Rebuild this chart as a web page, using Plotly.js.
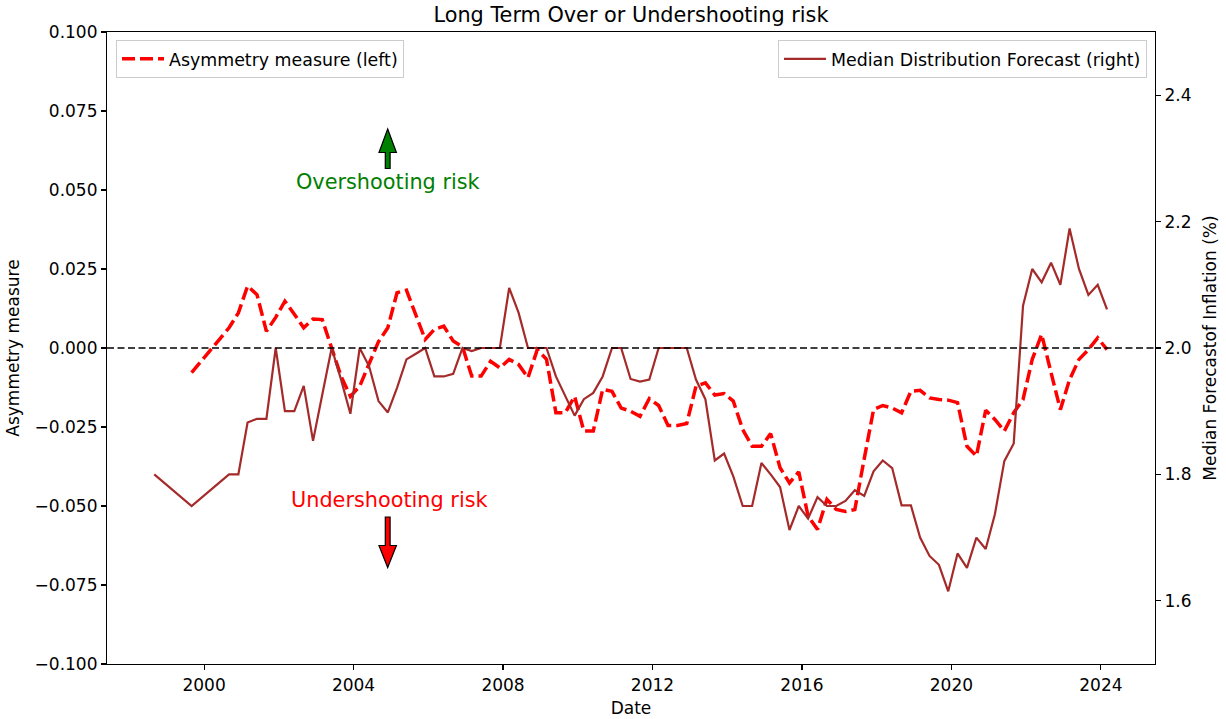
<!DOCTYPE html>
<html>
<head>
<meta charset="utf-8">
<script src="https://cdn.plot.ly/plotly-3.0.1.min.js"></script>
<style>
  html, body { margin: 0; padding: 0; background: #fff; }
  #chart { width: 1226px; height: 719px; }
</style>
</head>
<body>
<div id="chart"></div>
<script>
// ---- Data ----
const dates = [
  "1998-09-01","1999-09-01","2000-09-01","2000-12-01",
  "2001-03-01","2001-06-01","2001-09-01","2001-12-01",
  "2002-03-01","2002-06-01","2002-09-01","2002-12-01",
  "2003-03-01","2003-06-01","2003-09-01","2003-12-01",
  "2004-03-01","2004-06-01","2004-09-01","2004-12-01",
  "2005-03-01","2005-06-01","2005-09-01","2005-12-01",
  "2006-03-01","2006-06-01","2006-09-01","2006-12-01",
  "2007-03-01","2007-06-01","2007-09-01","2007-12-01",
  "2008-03-01","2008-06-01","2008-09-01","2008-12-01",
  "2009-03-01","2009-06-01","2009-09-01","2009-12-01",
  "2010-03-01","2010-06-01","2010-09-01","2010-12-01",
  "2011-03-01","2011-06-01","2011-09-01","2011-12-01",
  "2012-03-01","2012-06-01","2012-09-01","2012-12-01",
  "2013-03-01","2013-06-01","2013-09-01","2013-12-01",
  "2014-03-01","2014-06-01","2014-09-01","2014-12-01",
  "2015-03-01","2015-06-01","2015-09-01","2015-12-01",
  "2016-03-01","2016-06-01","2016-09-01","2016-12-01",
  "2017-03-01","2017-06-01","2017-09-01","2017-12-01",
  "2018-03-01","2018-06-01","2018-09-01","2018-12-01",
  "2019-03-01","2019-06-01","2019-09-01","2019-12-01",
  "2020-03-01","2020-06-01","2020-09-01","2020-12-01",
  "2021-03-01","2021-06-01","2021-09-01","2021-12-01",
  "2022-03-01","2022-06-01","2022-09-01","2022-12-01",
  "2023-03-01","2023-06-01","2023-09-01","2023-12-01",
  "2024-03-01"
];

// Median Distribution Forecast (right axis), one value per date above
const medianForecast = [
  1.80, 1.75, 1.80, 1.80,
  1.882, 1.888, 1.888, 2.00,
  1.90, 1.90, 1.94, 1.853,
  1.926, 2.00, 1.95, 1.896,
  2.00, 1.971, 1.916, 1.898,
  1.937, 1.982, 1.991, 2.00,
  1.955, 1.955, 1.959, 2.00,
  1.995, 2.00, 2.00, 2.00,
  2.095, 2.056, 2.00, 2.00,
  2.00, 1.955, 1.924, 1.893,
  1.919, 1.929, 1.955, 2.00,
  2.00, 1.951, 1.947, 1.950,
  2.00, 2.00, 2.00, 2.00,
  1.950, 1.919, 1.822, 1.833,
  1.797, 1.750, 1.750, 1.818,
  1.800, 1.780, 1.712, 1.750,
  1.730, 1.764, 1.750, 1.750,
  1.758, 1.775, 1.766, 1.805,
  1.822, 1.810, 1.751, 1.751,
  1.700, 1.671, 1.657, 1.615,
  1.675, 1.652, 1.700, 1.682,
  1.737, 1.821, 1.849, 2.067,
  2.125, 2.104, 2.135, 2.100,
  2.189, 2.125, 2.084, 2.100,
  2.061
];

// Asymmetry measure (left axis), starts at the second date (1999-09)
const asymDates = dates.slice(1);
const asymmetry = [
  -0.0078, 0.0064, 0.0111,
  0.0196, 0.0169, 0.0053, 0.0097,
  0.0148, 0.0107, 0.0064, 0.0092,
  0.0090, 0.0000, -0.0090, -0.0153,
  -0.0121, -0.0050, 0.0020, 0.0064,
  0.0175, 0.0183, 0.0101, 0.0027,
  0.0059, 0.0069, 0.0022, 0.0004,
  -0.0089, -0.0089, -0.0042, -0.0063,
  -0.0036, -0.0052, -0.0094, -0.0005,
  -0.0036, -0.0205, -0.0205, -0.0153,
  -0.0263, -0.0263, -0.0131, -0.0137,
  -0.0190, -0.0200, -0.0216, -0.0160,
  -0.0182, -0.0245, -0.0245, -0.0239,
  -0.0121, -0.0110, -0.0149, -0.0144,
  -0.0168, -0.0258, -0.0311, -0.0311,
  -0.0271, -0.0379, -0.0427, -0.0392,
  -0.0532, -0.0574, -0.0479, -0.0511,
  -0.0517, -0.0511, -0.0350, -0.0195,
  -0.0182, -0.0190, -0.0205, -0.0137,
  -0.0134, -0.0158, -0.0163, -0.0165,
  -0.0173, -0.0311, -0.0342, -0.0197,
  -0.0226, -0.0263, -0.0205, -0.0163,
  -0.0036, 0.0043, -0.0078, -0.0195,
  -0.0100, -0.0036, -0.0005, 0.0032,
  -0.0005
];

const xTickVals = ["2000-01-01","2004-01-01","2008-01-01","2012-01-01","2016-01-01","2020-01-01","2024-01-01"];
const xTickText = ["2000","2004","2008","2012","2016","2020","2024"];
const leftTicks = [-0.1, -0.075, -0.05, -0.025, 0, 0.025, 0.05, 0.075, 0.1];
const rightTicks = [1.6, 1.8, 2.0, 2.2, 2.4];

// ---- Layout geometry (pixels) ----
const W = 1226, H = 719;
const PL = 107, PR = 1155, PT = 32, PB = 664;
const pw = PR - PL, ph = PB - PT;
const px = v => (v - PL) / pw;
const py = v => (PB - v) / ph;

function arrowPath(xc, tipY, baseY, endY) {
  const sh = 2.4, hh = 8.7;
  const pts = [
    [xc, tipY], [xc + hh, baseY], [xc + sh, baseY], [xc + sh, endY],
    [xc - sh, endY], [xc - sh, baseY], [xc - hh, baseY]
  ];
  return "M " + pts.map(p => px(p[0]).toFixed(5) + "," + py(p[1]).toFixed(5)).join(" L ") + " Z";
}

const FONT = "DejaVu Sans, Verdana, sans-serif";

const traces = [
  {
    x: asymDates, y: asymmetry, type: "scatter", mode: "lines",
    name: "Asymmetry measure (left)", yaxis: "y", legend: "legend",
    line: { color: "#ff0000", width: 3.5, dash: "13px,5px" }
  },
  {
    x: dates, y: medianForecast, type: "scatter", mode: "lines",
    name: "Median Distribution Forecast (right)", yaxis: "y2", legend: "legend2",
    line: { color: "#a52a2a", width: 2.2 }
  }
];

const layout = {
  width: W, height: H,
  margin: { l: PL, r: W - PR, t: PT, b: H - PB, pad: 0 },
  paper_bgcolor: "#ffffff", plot_bgcolor: "#ffffff",
  font: { family: FONT, size: 17, color: "#000" },
  showlegend: true,
  title: {
    text: "Long Term Over or Undershooting risk",
    font: { family: FONT, size: 20.8, color: "#000" },
    x: 0.5, xref: "paper", xanchor: "center",
    y: 1 - 15 / H, yref: "container", yanchor: "middle"
  },
  xaxis: {
    type: "date",
    range: ["1997-05-27", "2025-06-13"],
    tickvals: xTickVals, ticktext: xTickText,
    ticks: "outside", ticklen: 5, tickwidth: 1.1, tickcolor: "#000",
    showline: true, linecolor: "#000", linewidth: 1.1, mirror: true,
    showgrid: false, zeroline: false,
    tickfont: { family: FONT, size: 17, color: "#000" },
    title: { text: "Date", font: { family: FONT, size: 17, color: "#000" }, standoff: 8 }
  },
  yaxis: {
    range: [-0.1, 0.1],
    tickvals: leftTicks, tickformat: ".3f",
    ticks: "outside", ticklen: 5, tickwidth: 1.1, tickcolor: "#000",
    showline: true, linecolor: "#000", linewidth: 1.1,
    showgrid: false, zeroline: false,
    tickfont: { family: FONT, size: 17, color: "#000" },
    title: { text: "Asymmetry measure", font: { family: FONT, size: 17, color: "#000" }, standoff: 10 }
  },
  yaxis2: {
    overlaying: "y", side: "right",
    range: [1.5, 2.5],
    tickvals: rightTicks, tickformat: ".1f",
    ticks: "outside", ticklen: 5, tickwidth: 1.1, tickcolor: "#000",
    showline: true, linecolor: "#000", linewidth: 1.1,
    showgrid: false, zeroline: false,
    tickfont: { family: FONT, size: 17, color: "#000" },
    title: { text: "Median Forecastof Inflation (%)", font: { family: FONT, size: 17, color: "#000" }, standoff: 13 }
  },
  legend: {
    x: px(116), y: py(40), xanchor: "left", yanchor: "top",
    xref: "paper", yref: "paper", itemwidth: 42,
    bgcolor: "rgba(255,255,255,0.85)", bordercolor: "#cccccc", borderwidth: 1,
    font: { family: FONT, size: 17.4, color: "#000" }
  },
  legend2: {
    x: px(1147), y: py(40), xanchor: "right", yanchor: "top",
    xref: "paper", yref: "paper", itemwidth: 42,
    bgcolor: "rgba(255,255,255,0.85)", bordercolor: "#cccccc", borderwidth: 1,
    font: { family: FONT, size: 17.4, color: "#000" }
  },
  shapes: [
    {
      type: "line", xref: "paper", x0: 0, x1: 1, yref: "y", y0: 0, y1: 0,
      line: { color: "#000", width: 1.5, dash: "7px,3.5px" }, layer: "above"
    },
    {
      type: "path", xref: "paper", yref: "paper",
      path: arrowPath(387.7, 129, 152.5, 168.5),
      fillcolor: "#008000", line: { color: "#000", width: 1.2 }
    },
    {
      type: "path", xref: "paper", yref: "paper",
      path: arrowPath(387.7, 567.5, 545.5, 517),
      fillcolor: "#ff0000", line: { color: "#000", width: 1.2 }
    }
  ],
  annotations: [
    {
      text: "Overshooting risk", xref: "paper", yref: "paper",
      x: px(387.5), y: py(182), xanchor: "center", yanchor: "middle",
      showarrow: false, font: { family: FONT, size: 20.8, color: "#008000" }
    },
    {
      text: "Undershooting risk", xref: "paper", yref: "paper",
      x: px(389), y: py(500), xanchor: "center", yanchor: "middle",
      showarrow: false, font: { family: FONT, size: 20.8, color: "#ff0000" }
    }
  ]
};

Plotly.newPlot("chart", traces, layout, { displayModeBar: false, staticPlot: true });
</script>
</body>
</html>
